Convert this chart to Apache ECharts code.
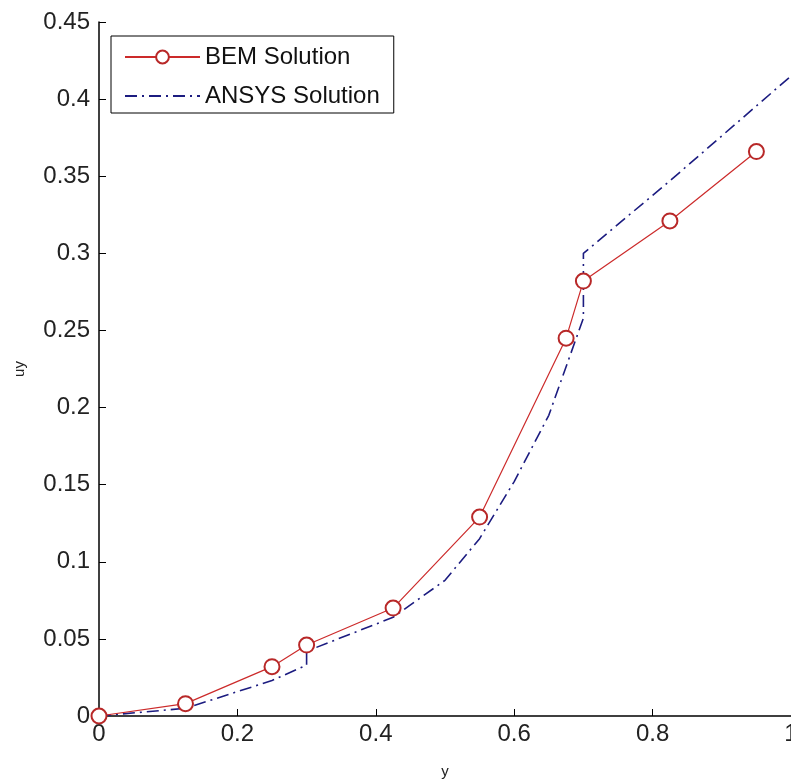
<!DOCTYPE html>
<html>
<head>
<meta charset="utf-8">
<script src="https://cdn.jsdelivr.net/npm/echarts@6/dist/echarts.min.js"></script>
<style>
html, body { margin: 0; padding: 0; background: #fff; }
#uy-chart { width: 791px; height: 780px; }
</style>
</head>
<body>
<div id="uy-chart"></div>
<script>
// BEM nodes
const bemX = [0, 0.125, 0.25, 0.3, 0.425, 0.55, 0.675, 0.7, 0.825, 0.95]
const bemY = [0, 0.008, 0.032, 0.046, 0.070, 0.129, 0.245, 0.282, 0.321, 0.366]
// ANSYS curve (jumps at 0.3 and 0.7)
const ansysX = [0, 0.125, 0.25, 0.3, 0.3, 0.425, 0.5, 0.55, 0.6, 0.65, 0.7, 0.7, 0.825, 1.0]
const ansysY = [0, 0.005, 0.023, 0.033, 0.042, 0.064, 0.088, 0.115, 0.152, 0.195, 0.258, 0.300, 0.347, 0.415]
const xTicks = { min: 0, max: 1, step: 0.2 }
const yTicks = { min: 0, max: 0.45, step: 0.05 }

const pairs = (xs, ys) => xs.map((x, i) => [x, ys[i]])
const font = 'Liberation Sans, Arial, sans-serif'

const chart = echarts.init(document.getElementById('uy-chart'))
const options = {
  animation: false,
  backgroundColor: '#fff',
  grid: {
    left: 99,
    right: 0,
    top: 22,
    bottom: 64,
    containLabel: false,
    outerBoundsMode: 'none'
  },
  legend: {
    orient: 'vertical',
    left: 111,
    top: 36,
    padding: [9, 14, 5, 13],
    borderColor: '#000',
    borderWidth: 1,
    itemWidth: 75,
    itemHeight: 16,
    itemGap: 15,
    textStyle: {
      fontFamily: font,
      fontSize: 24,
      lineHeight: 24,
      color: '#111'
    },
    data: [
      'BEM Solution',
      { name: 'ANSYS Solution', itemStyle: { color: 'rgba(0,0,0,0)', borderWidth: 0 } }
    ]
  },
  xAxis: {
    type: 'value',
    min: xTicks.min,
    max: xTicks.max,
    interval: xTicks.step,
    name: 'y',
    nameLocation: 'middle',
    nameGap: 48,
    nameTextStyle: { fontFamily: font, fontSize: 15, color: '#222' },
    axisLine: { lineStyle: { color: '#000', width: 1.5 } },
    axisTick: { inside: true, length: 7, lineStyle: { color: '#000' } },
    axisLabel: { fontFamily: font, fontSize: 24, color: '#222', margin: 6 },
    splitLine: { show: false }
  },
  yAxis: {
    type: 'value',
    min: yTicks.min,
    max: yTicks.max,
    interval: yTicks.step,
    name: 'uy',
    nameLocation: 'middle',
    nameRotate: 90,
    nameGap: 72,
    nameTextStyle: { fontFamily: font, fontSize: 15, color: '#222' },
    axisLine: { show: true, lineStyle: { color: '#000', width: 1.5 } },
    axisTick: { show: true, inside: true, length: 7, lineStyle: { color: '#000' } },
    axisLabel: { fontFamily: font, fontSize: 24, color: '#222', margin: 9 },
    splitLine: { show: false }
  },
  series: [
    {
      name: 'BEM Solution',
      type: 'line',
      data: pairs(bemX, bemY),
      symbol: 'emptyCircle',
      symbolSize: 15,
      clip: false,
      lineStyle: { color: '#cc2a2a', width: 1.2 },
      itemStyle: { color: '#b82828', borderColor: '#b82828', borderWidth: 1.2 },
      z: 3
    },
    {
      name: 'ANSYS Solution',
      type: 'line',
      data: pairs(ansysX, ansysY),
      showSymbol: false,
      symbol: 'none',
      lineStyle: { color: '#1c1c80', width: 1.6, type: [12, 5, 2, 5] },
      itemStyle: { color: '#1c1c80' },
      z: 2
    }
  ]
}
chart.setOption(options)
</script>
</body>
</html>
